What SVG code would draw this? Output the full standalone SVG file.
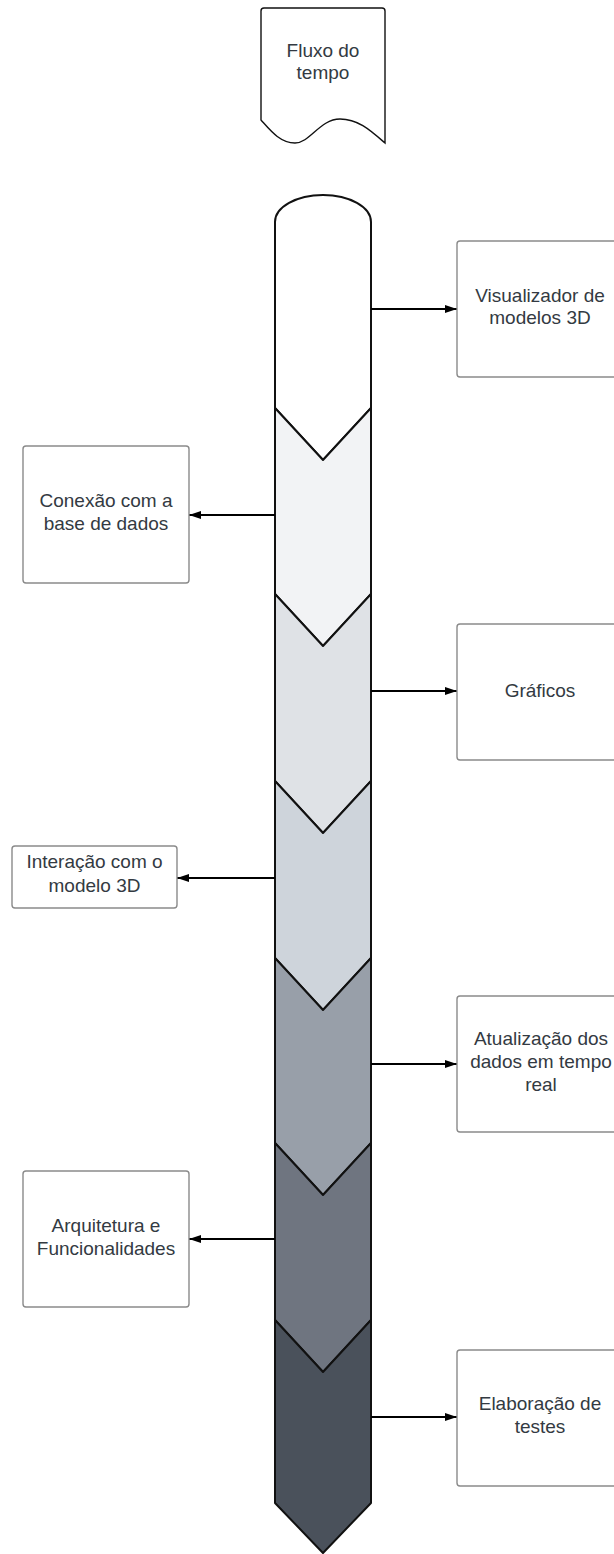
<svg xmlns="http://www.w3.org/2000/svg" width="614" height="1554" viewBox="0 0 614 1554">
<style>
.box{fill:#fff;stroke:#8a8a8a;stroke-width:1.4}
.seg{stroke:#111;stroke-width:2;stroke-linejoin:round}
.t{font-family:"Liberation Sans",Arial,sans-serif;font-size:19px;fill:#333a42;text-anchor:middle}
.c{stroke:#000;stroke-width:2;fill:none}
</style>
<defs>
<marker id="ah" viewBox="0 0 12 9" refX="12" refY="4.5" markerWidth="12" markerHeight="9" markerUnits="userSpaceOnUse" orient="auto">
<path d="M0,0.5 L12,4.5 L0,8.5 Z" fill="#000"/>
</marker>
</defs>
<g id="fluxo">
<path d="M264,8 L382,8 Q385,8 385,11 L385,143 C370,130 358,119 340,119 C320,119 310,143 295,143 C280,143 270,130 261,120 L261,11 Q261,8 264,8 Z" fill="#fff" stroke="#111" stroke-width="1.4"/>
<text class="t" x="323" y="57">Fluxo do</text>
<text class="t" x="323" y="79">tempo</text>
</g>
<g id="timeline">
<path class="seg" fill="#ffffff" d="M275,222 A48,27 0 0 1 371,222 L371,408 L323,460 L275,408 Z"/>
<path class="seg" fill="#f2f3f5" d="M275,408 L323,460 L371,408 L371,594 L323,646 L275,594 Z"/>
<path class="seg" fill="#dfe2e6" d="M275,594 L323,646 L371,594 L371,781 L323,833 L275,781 Z"/>
<path class="seg" fill="#ced4db" d="M275,781 L323,833 L371,781 L371,958 L323,1010 L275,958 Z"/>
<path class="seg" fill="#989fa9" d="M275,958 L323,1010 L371,958 L371,1143 L323,1195 L275,1143 Z"/>
<path class="seg" fill="#6f7580" d="M275,1143 L323,1195 L371,1143 L371,1320 L323,1372 L275,1320 Z"/>
<path class="seg" fill="#4a515b" d="M275,1320 L323,1372 L371,1320 L371,1503 L323,1553 L275,1503 Z"/>
</g>
<g id="connectors">
<line class="c" x1="371" y1="309" x2="457" y2="309" marker-end="url(#ah)"/>
<line class="c" x1="275" y1="515" x2="189" y2="515" marker-end="url(#ah)"/>
<line class="c" x1="371" y1="691" x2="457" y2="691" marker-end="url(#ah)"/>
<line class="c" x1="275" y1="878" x2="177" y2="878" marker-end="url(#ah)"/>
<line class="c" x1="371" y1="1064" x2="457" y2="1064" marker-end="url(#ah)"/>
<line class="c" x1="275" y1="1239" x2="189" y2="1239" marker-end="url(#ah)"/>
<line class="c" x1="371" y1="1417" x2="457" y2="1417" marker-end="url(#ah)"/>
</g>
<g id="visualizador">
<rect class="box" x="457" y="241" width="166" height="136" rx="3"/>
<text class="t" x="540" y="302">Visualizador de</text>
<text class="t" x="540" y="324">modelos 3D</text>
</g>
<g id="conexao">
<rect class="box" x="23" y="446" width="166" height="137" rx="3"/>
<text class="t" x="106" y="507">Conexão com a</text>
<text class="t" x="106" y="530">base de dados</text>
</g>
<g id="graficos">
<rect class="box" x="457" y="624" width="166" height="136" rx="3"/>
<text class="t" x="540" y="697">Gráficos</text>
</g>
<g id="interacao">
<rect class="box" x="12" y="846" width="165" height="62" rx="3"/>
<text class="t" x="94.5" y="868">Interação com o</text>
<text class="t" x="94.5" y="892">modelo 3D</text>
</g>
<g id="atualizacao">
<rect class="box" x="457" y="996" width="166" height="136" rx="3"/>
<text class="t" x="541" y="1045">Atualização dos</text>
<text class="t" x="541" y="1068">dados em tempo</text>
<text class="t" x="541" y="1091">real</text>
</g>
<g id="arquitetura">
<rect class="box" x="23" y="1171" width="166" height="136" rx="3"/>
<text class="t" x="106" y="1232">Arquitetura e</text>
<text class="t" x="106" y="1255">Funcionalidades</text>
</g>
<g id="elaboracao">
<rect class="box" x="457" y="1350" width="166" height="136" rx="3"/>
<text class="t" x="540" y="1410">Elaboração de</text>
<text class="t" x="540" y="1433">testes</text>
</g>
</svg>
